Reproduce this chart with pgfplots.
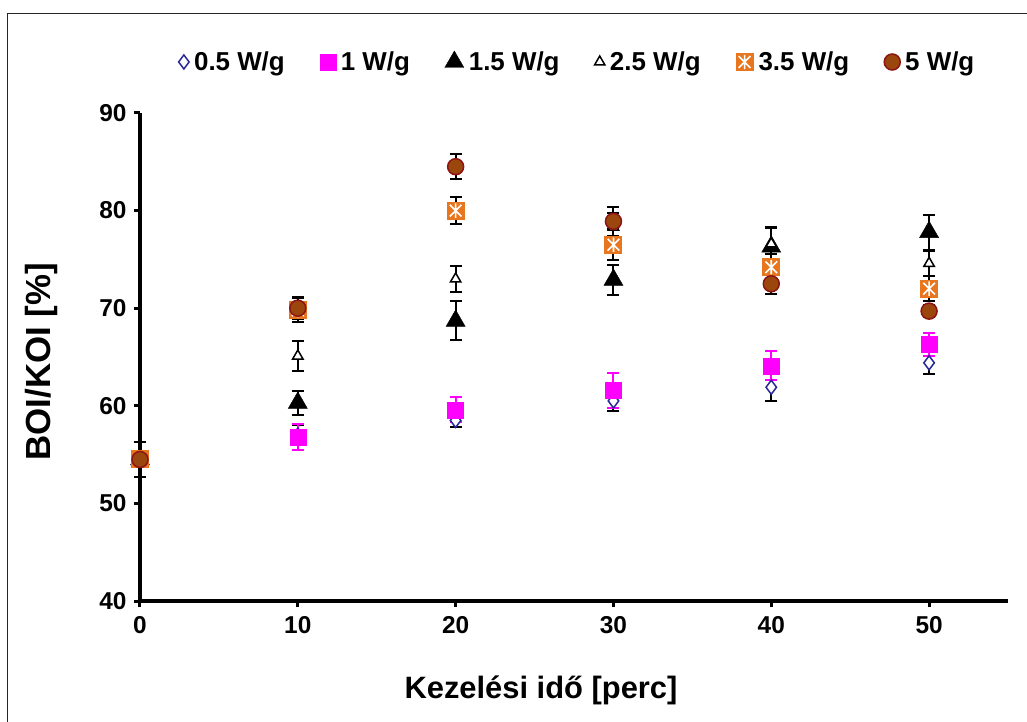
\documentclass[border=0pt]{standalone}
\usepackage{fontspec}
\setmainfont{Liberation Sans}
\usepackage{pgfplots}
\pgfplotsset{compat=1.18}
\definecolor{navyM}{RGB}{40,40,150}
\definecolor{magM}{RGB}{255,0,255}
\definecolor{oraM}{RGB}{232,118,30}
\definecolor{brnM}{RGB}{155,70,12}
\definecolor{redM}{RGB}{140,20,20}
\pgfdeclareplotmark{starsq}{%
  \pgfpathrectangle{\pgfpoint{-\pgfplotmarksize}{-\pgfplotmarksize}}{\pgfpoint{2\pgfplotmarksize}{2\pgfplotmarksize}}%
  \pgfsetfillcolor{oraM}\pgfusepath{fill}%
  \pgfsetstrokecolor{white}\pgfsetlinewidth{1.6bp}%
  \pgfpathmoveto{\pgfpoint{-0.65\pgfplotmarksize}{-0.65\pgfplotmarksize}}%
  \pgfpathlineto{\pgfpoint{0.65\pgfplotmarksize}{0.65\pgfplotmarksize}}%
  \pgfpathmoveto{\pgfpoint{-0.65\pgfplotmarksize}{0.65\pgfplotmarksize}}%
  \pgfpathlineto{\pgfpoint{0.65\pgfplotmarksize}{-0.65\pgfplotmarksize}}%
  \pgfpathmoveto{\pgfpoint{0pt}{-0.8\pgfplotmarksize}}%
  \pgfpathlineto{\pgfpoint{0pt}{0.8\pgfplotmarksize}}%
  \pgfusepath{stroke}%
}
\begin{document}
\begin{tikzpicture}
\useasboundingbox (-140bp,-121bp) rectangle (887bp,601bp);
\draw[line width=1bp, black!85] (-132bp,-125bp) -- (-132bp,587bp) -- (890bp,587bp);
\begin{axis}[
  scale only axis,
  width=868bp, height=488bp,
  xmin=0, xmax=55, ymin=40, ymax=90,
  axis x line*=bottom, axis y line*=left,
  axis line style={line width=3.3bp, -},
  xtick={0,10,...,50}, ytick={40,50,...,90},
  tick align=outside,
  major tick length=6bp,
  tick style={line width=3bp, black},
  /pgf/number format/assume math mode=true,
  ticklabel style={font=\fontsize{24.5}{28}\selectfont\bfseries},
  xticklabel style={yshift=-6bp},
  yticklabel style={xshift=-4bp},
  xlabel={Kezelési idő [perc]},
  ylabel={BOI/KOI [\%]},
  xlabel style={font=\fontsize{31}{36}\selectfont\bfseries, at={(axis description cs:0.462,0)}, anchor=center, yshift=-89bp},
  ylabel style={font=\fontsize{35}{40}\selectfont\bfseries, at={(axis description cs:-0.113,0.49)}, anchor=center},
  legend columns=6,
  legend style={draw=none, fill=none, at={(axis description cs:0.504,1.1045)}, anchor=center,
    font=\fontsize{26}{30}\selectfont\bfseries,
    /tikz/every odd column/.append style={column sep=3bp},
    /tikz/every even column/.append style={column sep=33bp}},
  legend cell align=left,
  clip=false,
  error bars/y dir=both, error bars/y explicit,
  error bars/error bar style={line width=2bp, black},
  error bars/error mark options={rotate=90, mark size=6bp, line width=2bp, black},
]
% 0.5 W/g
\addplot[only marks, mark=diamond*, mark size=7bp, mark options={fill=white, draw=navyM, line width=1.5bp}]
 coordinates {(0,54.5) +- (0,1.8) (10,57.0) +- (0,1.0) (20,58.5) +- (0,0.7) (30,60.5) +- (0,1.0) (40,61.9) +- (0,1.4) (50,64.4) +- (0,1.1)};
\addlegendentry{0.5 W/g}
% 1 W/g
\addplot[only marks, mark=square*, mark size=8bp, mark options={fill=magM, draw=magM},
  error bars/error bar style={line width=2bp, magM},
  error bars/error mark options={rotate=90, mark size=6bp, line width=2bp, magM}]
 coordinates {(0,54.5) +- (0,1.8) (10,56.8) +- (0,1.3) (20,59.6) +- (0,1.3) (30,61.6) +- (0,1.8) (40,64.1) +- (0,1.5) (50,66.3) +- (0,1.2)};
\addlegendentry{1 W/g}
% 1.5 W/g
\addplot[only marks, mark=triangle*, mark size=11bp, mark options={fill=black, draw=black}]
 coordinates {(0,54.5) +- (0,1.8) (10,60.3) +- (0,1.2) (20,68.7) +- (0,2.0) (30,72.9) +- (0,1.5) (40,76.3) +- (0,2.0) (50,77.8) +- (0,1.8)};
\addlegendentry{1.5 W/g}
% 2.5 W/g
\addplot[only marks, mark=triangle*, mark size=6bp, mark options={fill=white, draw=black, line width=1.5bp}]
 coordinates {(0,54.5) +- (0,1.8) (10,65.1) +- (0,1.5) (20,73.0) +- (0,1.3) (30,78.3) +- (0,1.5) (40,76.6) +- (0,1.6) (50,74.6) +- (0,1.3)};
\addlegendentry{2.5 W/g}
% 3.5 W/g
\addplot[only marks, mark=starsq, mark size=9bp]
 coordinates {(0,54.5) +- (0,1.8) (10,69.8) +- (0,1.2) (20,80.0) +- (0,1.4) (30,76.5) +- (0,1.6) (40,74.2) +- (0,1.4) (50,72.0) +- (0,1.3)};
\addlegendentry{3.5 W/g}
% 5 W/g
\addplot[only marks, mark=*, mark size=8bp, mark options={fill=brnM, draw=redM, line width=1.5bp}]
 coordinates {(0,54.5) +- (0,1.8) (10,70.0) +- (0,1.1) (20,84.5) +- (0,1.3) (30,78.9) +- (0,1.5) (40,72.5) +- (0,1.0) (50,69.7) +- (0,0.6)};
\addlegendentry{5 W/g}
\end{axis}
\end{tikzpicture}
\end{document}
